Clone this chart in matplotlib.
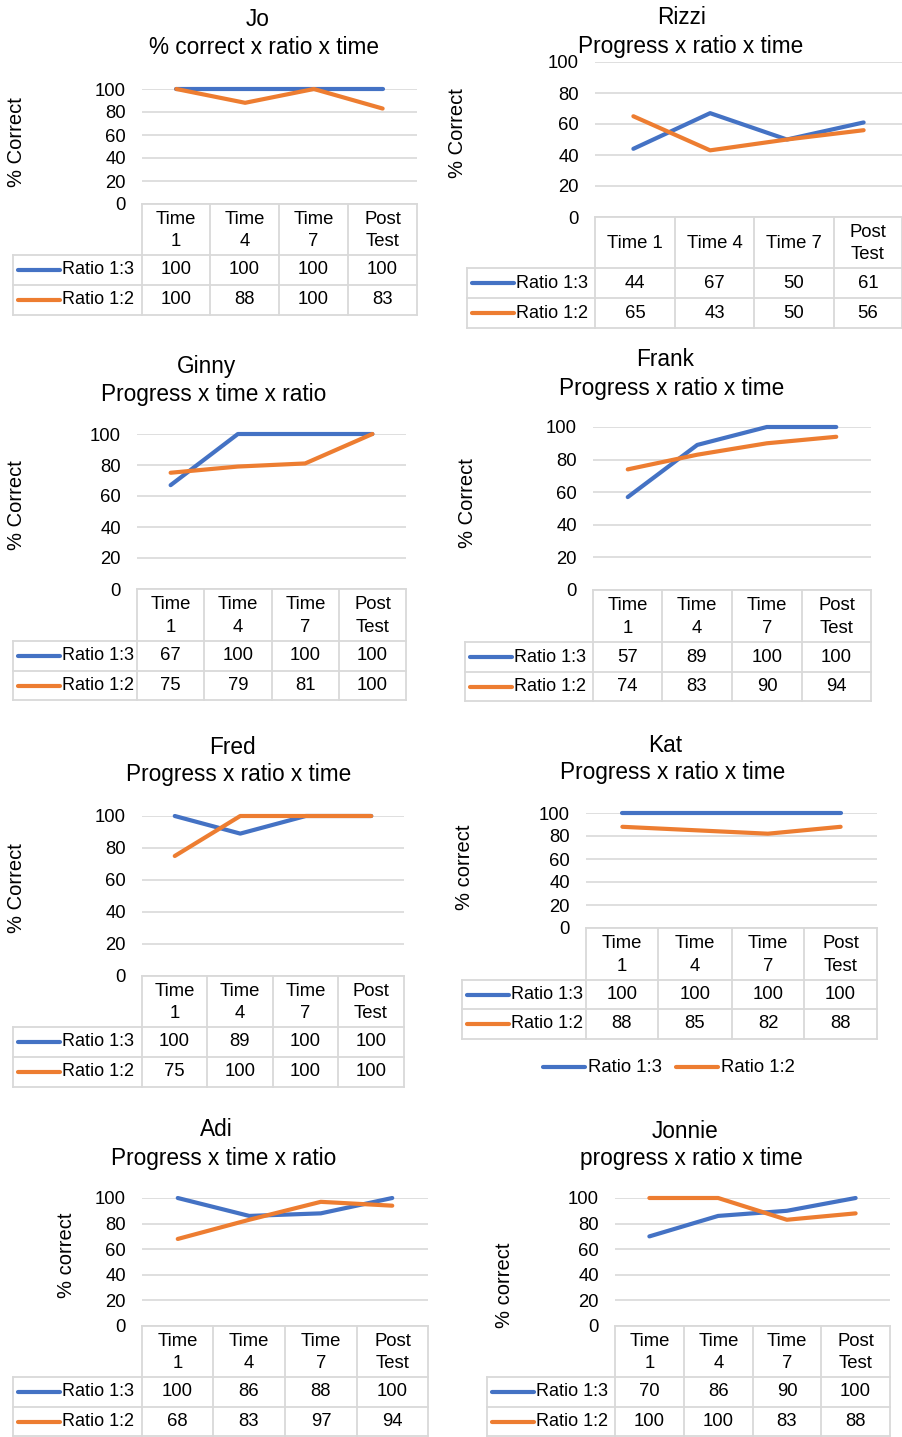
import matplotlib
matplotlib.use("Agg")
import matplotlib.pyplot as plt

plt.rcParams['font.family'] = ['Liberation Sans', 'DejaVu Sans']

# --- data ---
names = ["Jo", "Rizzi", "Ginny", "Frank", "Fred", "Kat", "Adi", "Jonnie"]
subtitles = ["% correct x ratio x time", "Progress x ratio x time",
             "Progress x time x ratio", "Progress x ratio x time",
             "Progress x ratio x time", "Progress x ratio x time",
             "Progress x time x ratio", "progress x ratio x time"]
ylabels = ["% Correct", "% Correct", "% Correct", "% Correct",
           "% Correct", "% correct", "% correct", "% correct"]
categories = ["Time\n1", "Time\n4", "Time\n7", "Post\nTest"]
categories_rizzi = ["Time 1", "Time 4", "Time 7", "Post\nTest"]
series_names = ["Ratio 1:3", "Ratio 1:2"]
ratio_13 = [[100, 100, 100, 100], [44, 67, 50, 61], [67, 100, 100, 100],
            [57, 89, 100, 100], [100, 89, 100, 100], [100, 100, 100, 100],
            [100, 86, 88, 100], [70, 86, 90, 100]]
ratio_12 = [[100, 88, 100, 83], [65, 43, 50, 56], [75, 79, 81, 100],
            [74, 83, 90, 94], [75, 100, 100, 100], [88, 85, 82, 88],
            [68, 83, 97, 94], [100, 100, 83, 88]]
yticks = [0, 20, 40, 60, 80, 100]

BLUE = "#4472C4"
ORANGE = "#ED7D31"
GRID = "#d9d9d9"
FS = 13.3

# layout in pixels: title xy, subtitle xy, ylabel xy, column edges, y of 100, y of 0,
# header bottom, row1 bottom, row2 bottom, legend column left
layout = [
    dict(t=(258, 19), s=(264, 47), yl=(17, 142), cols=[142, 210, 279, 348, 417], y100=89, y0=204, hb=255, r1=285, r2=315, lg=13),
    dict(t=(682, 18), s=(691, 47), yl=(458, 133), cols=[595, 675, 754, 834, 902], y100=62, y0=217, hb=268, r1=298, r2=328, lg=467),
    dict(t=(207, 367), s=(214, 394), yl=(17, 505), cols=[137, 204, 272, 339, 406], y100=434, y0=589, hb=641, r1=671, r2=700, lg=13),
    dict(t=(665, 360), s=(672, 388), yl=(468, 503), cols=[593, 662, 732, 802, 871], y100=427, y0=590, hb=642, r1=672, r2=701, lg=465),
    dict(t=(232, 747), s=(239, 774), yl=(17, 888), cols=[142, 207, 273, 338, 404], y100=816, y0=976, hb=1027, r1=1057, r2=1087, lg=13),
    dict(t=(665, 745), s=(673, 773), yl=(465, 867), cols=[586, 658, 732, 804, 877], y100=813, y0=928, hb=980, r1=1009, r2=1039, lg=462),
    dict(t=(216, 1130), s=(224, 1158), yl=(67, 1255), cols=[142, 213, 285, 357, 428], y100=1198, y0=1326, hb=1377, r1=1407, r2=1436, lg=13),
    dict(t=(685, 1131), s=(691, 1159), yl=(505, 1285), cols=[615, 684, 753, 821, 890], y100=1198, y0=1326, hb=1377, r1=1407, r2=1436, lg=487),
]

W, H = 903, 1437
fig = plt.figure(figsize=(W / 100, H / 100), dpi=100)
bg = fig.add_axes([0, 0, 1, 1])
bg.set_xlim(0, W)
bg.set_ylim(H, 0)
bg.axis("off")

for i, L in enumerate(layout):
    cols = L["cols"]
    x0, x1 = cols[0], cols[-1]
    y100, y0 = L["y100"], L["y0"]

    # chart area
    ax = fig.add_axes([x0 / W, 1 - y0 / H, (x1 - x0) / W, (y0 - y100) / H])
    ax.set_xlim(-0.5, 3.5)
    ax.set_ylim(0, 100)
    for sp in ax.spines.values():
        sp.set_visible(False)
    ax.set_xticks([])
    ax.set_yticks(yticks)
    ax.tick_params(axis="y", length=0, pad=11.5, labelsize=FS)
    ax.yaxis.grid(True, color=GRID, linewidth=1.2)
    ax.set_axisbelow(True)
    ax.patch.set_alpha(0)
    xs = range(len(ratio_13[i]))
    ax.plot(xs, ratio_13[i], color=BLUE, lw=3, solid_capstyle="round", clip_on=False, zorder=3)
    ax.plot(xs, ratio_12[i], color=ORANGE, lw=3, solid_capstyle="round", clip_on=False, zorder=3)

    # titles and y label
    bg.text(L["t"][0], L["t"][1], names[i], ha="center", va="center", fontsize=16.3)
    bg.text(L["s"][0], L["s"][1], subtitles[i], ha="center", va="center", fontsize=16.3)
    bg.text(L["yl"][0], L["yl"][1], ylabels[i], ha="center", va="center", rotation=90, fontsize=14.5)

    # data table
    hb, r1, r2, lg = L["hb"], L["r1"], L["r2"], L["lg"]
    kw = dict(color=GRID, lw=1.3, zorder=1)
    bg.plot([x0, x1], [y0, y0], **kw)
    for yy in (hb, r1, r2):
        bg.plot([lg, x1], [yy, yy], **kw)
    for xx in cols:
        bg.plot([xx, xx], [y0, r2], **kw)
    bg.plot([lg, lg], [hb, r2], **kw)

    heads = categories_rizzi if i == 1 else categories
    for j, h in enumerate(heads):
        cx = (cols[j] + cols[j + 1]) / 2
        bg.text(cx, (y0 + hb) / 2 + 1, h, ha="center", va="center", fontsize=FS, linespacing=1.45)

    for k, (vals, c) in enumerate([(ratio_13[i], BLUE), (ratio_12[i], ORANGE)]):
        top, bot = (hb, r1) if k == 0 else (r1, r2)
        cy = (top + bot) / 2
        bg.plot([lg + 5, lg + 47], [cy, cy], color=c, lw=3, solid_capstyle="round")
        bg.text(lg + 49, cy, series_names[k], ha="left", va="center", fontsize=13)
        for j, v in enumerate(vals):
            cx = (cols[j] + cols[j + 1]) / 2
            bg.text(cx, cy, str(v), ha="center", va="center", fontsize=FS)

# legend under Kat panel
ly = 1067
bg.plot([543, 585], [ly, ly], color=BLUE, lw=3, solid_capstyle="round")
bg.text(588, ly, series_names[0], ha="left", va="center", fontsize=FS)
bg.plot([676, 718], [ly, ly], color=ORANGE, lw=3, solid_capstyle="round")
bg.text(721, ly, series_names[1], ha="left", va="center", fontsize=FS)

fig.savefig("out.png", dpi=100, facecolor="white")
